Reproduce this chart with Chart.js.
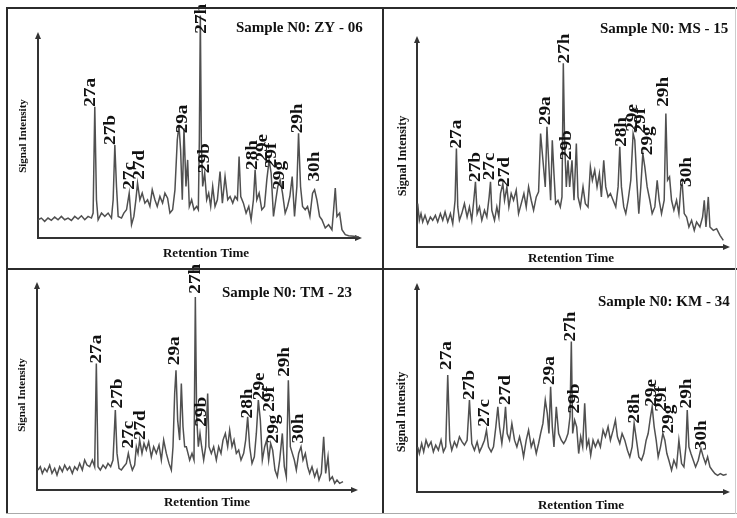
<!DOCTYPE html>
<html>
<head>
<meta charset="utf-8">
<script src="https://cdn.jsdelivr.net/npm/chart.js@4.4.0/dist/chart.umd.min.js"></script>
<style>
  body { margin: 0; background: #fff; }
  #fig { position: relative; width: 737px; height: 518px; overflow: hidden; background: #fff; }
  #fig canvas { position: absolute; left: 0; top: 0; }
  .ln { position: absolute; background: #2b2b2b; }
</style>
</head>
<body>
<div id="fig">
  <canvas id="c1" width="737" height="518"></canvas>
  <canvas id="c2" width="737" height="518"></canvas>
  <canvas id="c3" width="737" height="518"></canvas>
  <canvas id="c4" width="737" height="518"></canvas>
  <div class="ln" style="left:6px;top:7px;width:731px;height:2px"></div>
  <div class="ln" style="left:6px;top:7px;width:2px;height:507px"></div>
  <div class="ln" style="left:382px;top:7px;width:2px;height:507px"></div>
  <div class="ln" style="left:6px;top:268px;width:731px;height:2px"></div>
  <div class="ln" style="left:6px;top:513px;width:731px;height:1px;background:#aaa"></div>
  <div class="ln" style="left:735px;top:7px;width:1px;height:507px;background:#ccc"></div>
</div>
<script>
// peak names, same order in every sample
const peakNames = ['27a', '27b', '27c', '27d', '29a', '27h', '29b', '28h', '29e', '29f', '29g', '29h', '30h'];
const sampleNames = ['ZY - 06', 'MS - 15', 'TM - 23', 'KM - 34'];

// traces: [retention time, signal] in arbitrary units
const zy06Trace = [[0,55],[10,60],[20,50],[30,60],[40,53],[50,63],[60,55],[70,65],[80,55],[90,60],[100,53],[110,65],[120,57],[130,67],[140,55],[150,65],[160,60],[165,75],[170,395],[175,115],[180,55],[190,75],[200,65],[210,75],[220,60],[225,115],[230,280],[235,155],[240,65],[250,60],[257,75],[265,85],[273,135],[280,40],[287,65],[293,115],[298,165],[305,115],[312,135],[320,105],[328,115],[335,95],[342,145],[350,115],[357,95],[365,125],[373,105],[380,135],[388,120],[395,75],[403,85],[410,145],[417,295],[422,340],[427,265],[432,115],[437,330],[443,155],[448,235],[453,95],[460,115],[467,85],[475,95],[480,85],[483,295],[486,670],[489,285],[493,155],[499,195],[505,115],[511,135],[517,95],[523,155],[530,95],[537,115],[545,200],[552,105],[560,185],[568,115],[575,125],[583,105],[590,125],[597,115],[602,245],[607,125],[615,105],[623,75],[631,95],[638,55],[645,115],[650,205],[655,115],[662,135],[670,85],[678,95],[685,175],[692,235],[698,195],[705,65],[712,115],[718,155],[725,175],[732,135],[740,75],[747,95],[754,125],[761,185],[768,65],[775,155],[780,315],[786,155],[792,95],[800,85],[807,95],[814,65],[822,135],[828,145],[835,115],[843,65],[850,55],[860,30],[870,40],[880,25],[885,85],[890,150],[895,65],[903,75],[910,25],[920,10],[930,7],[945,5],[960,3]];
const zy06PeakTime = [159, 218, 275, 305, 433, 490, 500, 642, 672, 700, 725, 778, 828];
const zy06PeakSignal = [395, 280, 145, 175, 315, 615, 195, 205, 230, 210, 145, 315, 170];

const ms15Trace = [[2,130],[7,80],[12,100],[17,75],[24,95],[32,70],[40,90],[47,80],[55,95],[62,75],[70,100],[77,80],[84,105],[92,75],[100,100],[107,70],[114,140],[118,295],[122,120],[127,80],[134,100],[142,130],[150,90],[157,120],[164,80],[170,140],[175,195],[180,100],[187,120],[194,80],[202,110],[209,90],[216,150],[220,195],[224,110],[232,80],[239,120],[245,90],[250,160],[257,190],[262,140],[269,180],[275,120],[282,160],[289,140],[297,170],[304,100],[312,130],[320,160],[327,120],[334,180],[342,140],[349,110],[357,150],[364,165],[370,340],[377,260],[384,180],[389,360],[394,260],[400,140],[405,320],[410,220],[415,130],[422,140],[429,120],[434,150],[438,550],[442,310],[447,180],[452,260],[457,180],[464,260],[470,140],[477,310],[482,150],[489,120],[497,180],[504,130],[512,120],[519,240],[525,200],[532,230],[539,180],[546,220],[552,150],[559,260],[565,180],[572,150],[579,160],[587,140],[595,120],[602,180],[607,300],[612,180],[619,120],[625,100],[632,140],[640,200],[647,340],[652,320],[658,200],[664,100],[670,180],[676,280],[682,240],[689,180],[697,140],[704,100],[712,120],[719,200],[725,140],[732,100],[740,140],[745,400],[750,200],[756,210],[762,140],[769,110],[777,140],[784,100],[790,180],[794,190],[800,100],[807,90],[814,60],[822,80],[830,50],[837,75],[847,60],[855,90],[860,140],[865,60],[872,150],[877,60],[887,50],[897,55],[907,35],[917,20]];
const ms15PeakTime = [119, 175, 217, 262, 387, 444, 450, 612, 647, 670, 692, 740, 807];
const ms15PeakSignal = [295, 195, 200, 180, 365, 550, 260, 300, 345, 340, 275, 420, 180];

const tm23Trace = [[3,60],[10,70],[16,50],[23,65],[30,55],[38,75],[45,50],[53,65],[60,45],[68,70],[76,55],[83,75],[91,60],[98,70],[106,50],[113,70],[121,60],[128,80],[136,60],[143,90],[150,75],[158,70],[166,90],[173,70],[178,380],[183,70],[190,60],[198,75],[206,65],[213,80],[221,70],[228,90],[235,240],[240,110],[246,65],[253,60],[260,70],[268,80],[274,110],[280,80],[286,60],[293,75],[298,130],[303,110],[308,150],[315,110],[321,140],[328,120],[335,145],[343,100],[350,130],[358,110],[366,135],[373,90],[380,150],[388,110],[396,80],[403,60],[408,130],[413,290],[417,360],[422,210],[428,150],[433,320],[438,190],[443,130],[448,130],[453,110],[458,90],[465,110],[471,90],[475,580],[479,220],[484,130],[489,170],[494,130],[500,90],[506,130],[512,290],[516,130],[523,110],[530,130],[538,90],[545,130],[552,110],[558,150],[565,170],[572,130],[578,180],[585,130],[591,150],[598,110],[605,120],[612,90],[620,110],[626,150],[632,220],[638,130],[645,80],[652,100],[658,170],[664,270],[670,210],[676,90],[683,130],[689,150],[695,90],[701,140],[707,120],[714,60],[721,40],[728,90],[736,170],[742,70],[748,40],[754,330],[760,130],[766,110],[772,90],[778,60],[785,110],[792,130],[798,90],[805,110],[812,70],[818,50],[825,70],[833,40],[840,60],[846,30],[853,50],[860,160],[866,50],[873,100],[878,30],[886,40],[893,20],[900,30],[908,20],[918,25]];
const tm23PeakTime = [180, 243, 276, 313, 415, 476, 495, 633, 670, 698, 710, 745, 785];
const tm23PeakSignal = [380, 245, 125, 150, 375, 590, 190, 215, 270, 235, 140, 340, 140];

const km34Trace = [[2,135],[7,115],[14,145],[20,120],[27,155],[34,135],[42,150],[49,120],[56,140],[64,125],[72,155],[79,120],[86,135],[92,350],[98,155],[104,125],[112,150],[119,135],[127,165],[135,150],[142,140],[150,155],[157,275],[164,145],[172,125],[180,150],[187,120],[194,135],[202,155],[208,185],[214,135],[222,120],[229,135],[236,195],[242,255],[247,195],[254,145],[260,195],[265,255],[270,175],[277,155],[284,205],[292,155],[299,135],[307,165],[314,135],[319,105],[327,155],[334,185],[342,135],[349,155],[357,115],[364,145],[370,175],[377,205],[384,275],[390,235],[395,175],[400,315],[405,195],[410,135],[417,255],[424,175],[432,155],[439,145],[445,155],[452,175],[458,225],[462,450],[466,175],[472,215],[478,195],[484,115],[490,165],[496,135],[502,265],[508,135],[514,155],[520,110],[527,155],[534,135],[542,155],[549,135],[557,185],[564,165],[572,195],[579,155],[587,185],[594,215],[600,165],[607,145],[614,175],[622,155],[630,125],[637,105],[644,135],[650,205],[657,155],[664,105],[672,95],[679,115],[686,155],[692,175],[699,225],[704,255],[710,195],[716,155],[722,105],[729,135],[736,175],[742,155],[748,115],[754,95],[762,65],[769,95],[777,75],[784,155],[792,85],[799,75],[805,135],[809,245],[814,135],[820,115],[827,95],[834,75],[842,95],[850,130],[857,105],[864,85],[870,105],[877,75],[884,65],[892,55],[900,50],[908,55],[917,50],[927,53]];
const km34PeakTime = [90, 157, 204, 267, 397, 462, 472, 652, 702, 734, 754, 807, 852];
const km34PeakSignal = [365, 275, 195, 260, 320, 450, 235, 205, 255, 240, 175, 250, 125];

// layout of each panel on the page (pixels)
const panels = [
  { id: 'c1', trace: zy06Trace, pt: zy06PeakTime, ps: zy06PeakSignal, sample: sampleNames[0],
    pad: { left: 38, top: 32, right: 375, bottom: 280 }, xMax: 970, yMax: 620,
    titleAt: [236, 32], xTitleAt: [206, 257], yTitleAt: [23, 136], ySize: 11 },
  { id: 'c2', trace: ms15Trace, pt: ms15PeakTime, ps: ms15PeakSignal, sample: sampleNames[1],
    pad: { left: 417, top: 36, right: 7, bottom: 271 }, xMax: 937, yMax: 632,
    titleAt: [600, 33], xTitleAt: [571, 262], yTitleAt: [403, 156], ySize: 12 },
  { id: 'c3', trace: tm23Trace, pt: tm23PeakTime, ps: tm23PeakSignal, sample: sampleNames[2],
    pad: { left: 37, top: 282, right: 379, bottom: 28 }, xMax: 963, yMax: 625,
    titleAt: [222, 297], xTitleAt: [207, 506], yTitleAt: [22, 395], ySize: 11 },
  { id: 'c4', trace: km34Trace, pt: km34PeakTime, ps: km34PeakSignal, sample: sampleNames[3],
    pad: { left: 417, top: 283, right: 7, bottom: 26 }, xMax: 937, yMax: 625,
    titleAt: [598, 306], xTitleAt: [581, 509], yTitleAt: [402, 412], ySize: 12 }
];

const SERIF = '"Liberation Serif", "Times New Roman", serif';

function drawText(ctx, text, x, y, rotate, stretch) {
  ctx.save();
  ctx.translate(x, y);
  if (rotate) ctx.rotate(-Math.PI / 2);
  ctx.scale(stretch, 1);
  ctx.fillText(text, 0, 0);
  ctx.restore();
}

// axes with arrow heads, peak labels and panel texts
const chromPlugin = {
  id: 'chrom',
  beforeDatasetsDraw(chart) {
    const { ctx, chartArea: a } = chart;
    ctx.save();
    ctx.strokeStyle = '#333';
    ctx.fillStyle = '#333';
    ctx.lineWidth = 2;
    ctx.beginPath();
    ctx.moveTo(a.left, a.top + 5);
    ctx.lineTo(a.left, a.bottom);
    ctx.lineTo(a.right - 5, a.bottom);
    ctx.stroke();
    ctx.beginPath();
    ctx.moveTo(a.left, a.top);
    ctx.lineTo(a.left - 3, a.top + 7);
    ctx.lineTo(a.left + 3, a.top + 7);
    ctx.fill();
    ctx.beginPath();
    ctx.moveTo(a.right, a.bottom);
    ctx.lineTo(a.right - 7, a.bottom - 3);
    ctx.lineTo(a.right - 7, a.bottom + 3);
    ctx.fill();
    ctx.restore();
  },
  afterDatasetsDraw(chart, args, opts) {
    const { ctx, scales: { x, y } } = chart;
    ctx.save();
    ctx.fillStyle = '#111';
    ctx.font = 'bold 16px ' + SERIF;
    ctx.textAlign = 'left';
    ctx.textBaseline = 'middle';
    peakNames.forEach((name, i) => {
      drawText(ctx, name, x.getPixelForValue(opts.times[i]), y.getPixelForValue(opts.signals[i]), true, 1.2);
    });

    ctx.font = 'bold 15px ' + SERIF;
    ctx.textBaseline = 'alphabetic';
    ctx.fillText('Sample N0: ' + opts.sample, opts.titleAt[0], opts.titleAt[1]);

    ctx.font = 'bold 13px ' + SERIF;
    ctx.textAlign = 'center';
    ctx.fillText('Retention Time', opts.xTitleAt[0], opts.xTitleAt[1]);

    ctx.font = 'bold ' + opts.ySize + 'px ' + SERIF;
    ctx.textBaseline = 'middle';
    drawText(ctx, 'Signal Intensity', opts.yTitleAt[0], opts.yTitleAt[1], true, 1);
    ctx.restore();
  }
};

panels.forEach(p => {
  new Chart(document.getElementById(p.id), {
    type: 'line',
    data: {
      datasets: [{
        data: p.trace.map(d => ({ x: d[0], y: d[1] })),
        borderColor: '#505050',
        borderWidth: 1.5,
        pointRadius: 0,
        tension: 0,
        clip: false
      }]
    },
    options: {
      responsive: false,
      animation: false,
      events: [],
      layout: { padding: p.pad },
      scales: {
        x: { type: 'linear', min: 0, max: p.xMax, display: false },
        y: { type: 'linear', min: 0, max: p.yMax, display: false }
      },
      plugins: {
        legend: { display: false },
        tooltip: { enabled: false },
        chrom: {
          times: p.pt, signals: p.ps, sample: p.sample,
          titleAt: p.titleAt, xTitleAt: p.xTitleAt, yTitleAt: p.yTitleAt, ySize: p.ySize
        }
      }
    },
    plugins: [chromPlugin]
  });
});
</script>
</body>
</html>
